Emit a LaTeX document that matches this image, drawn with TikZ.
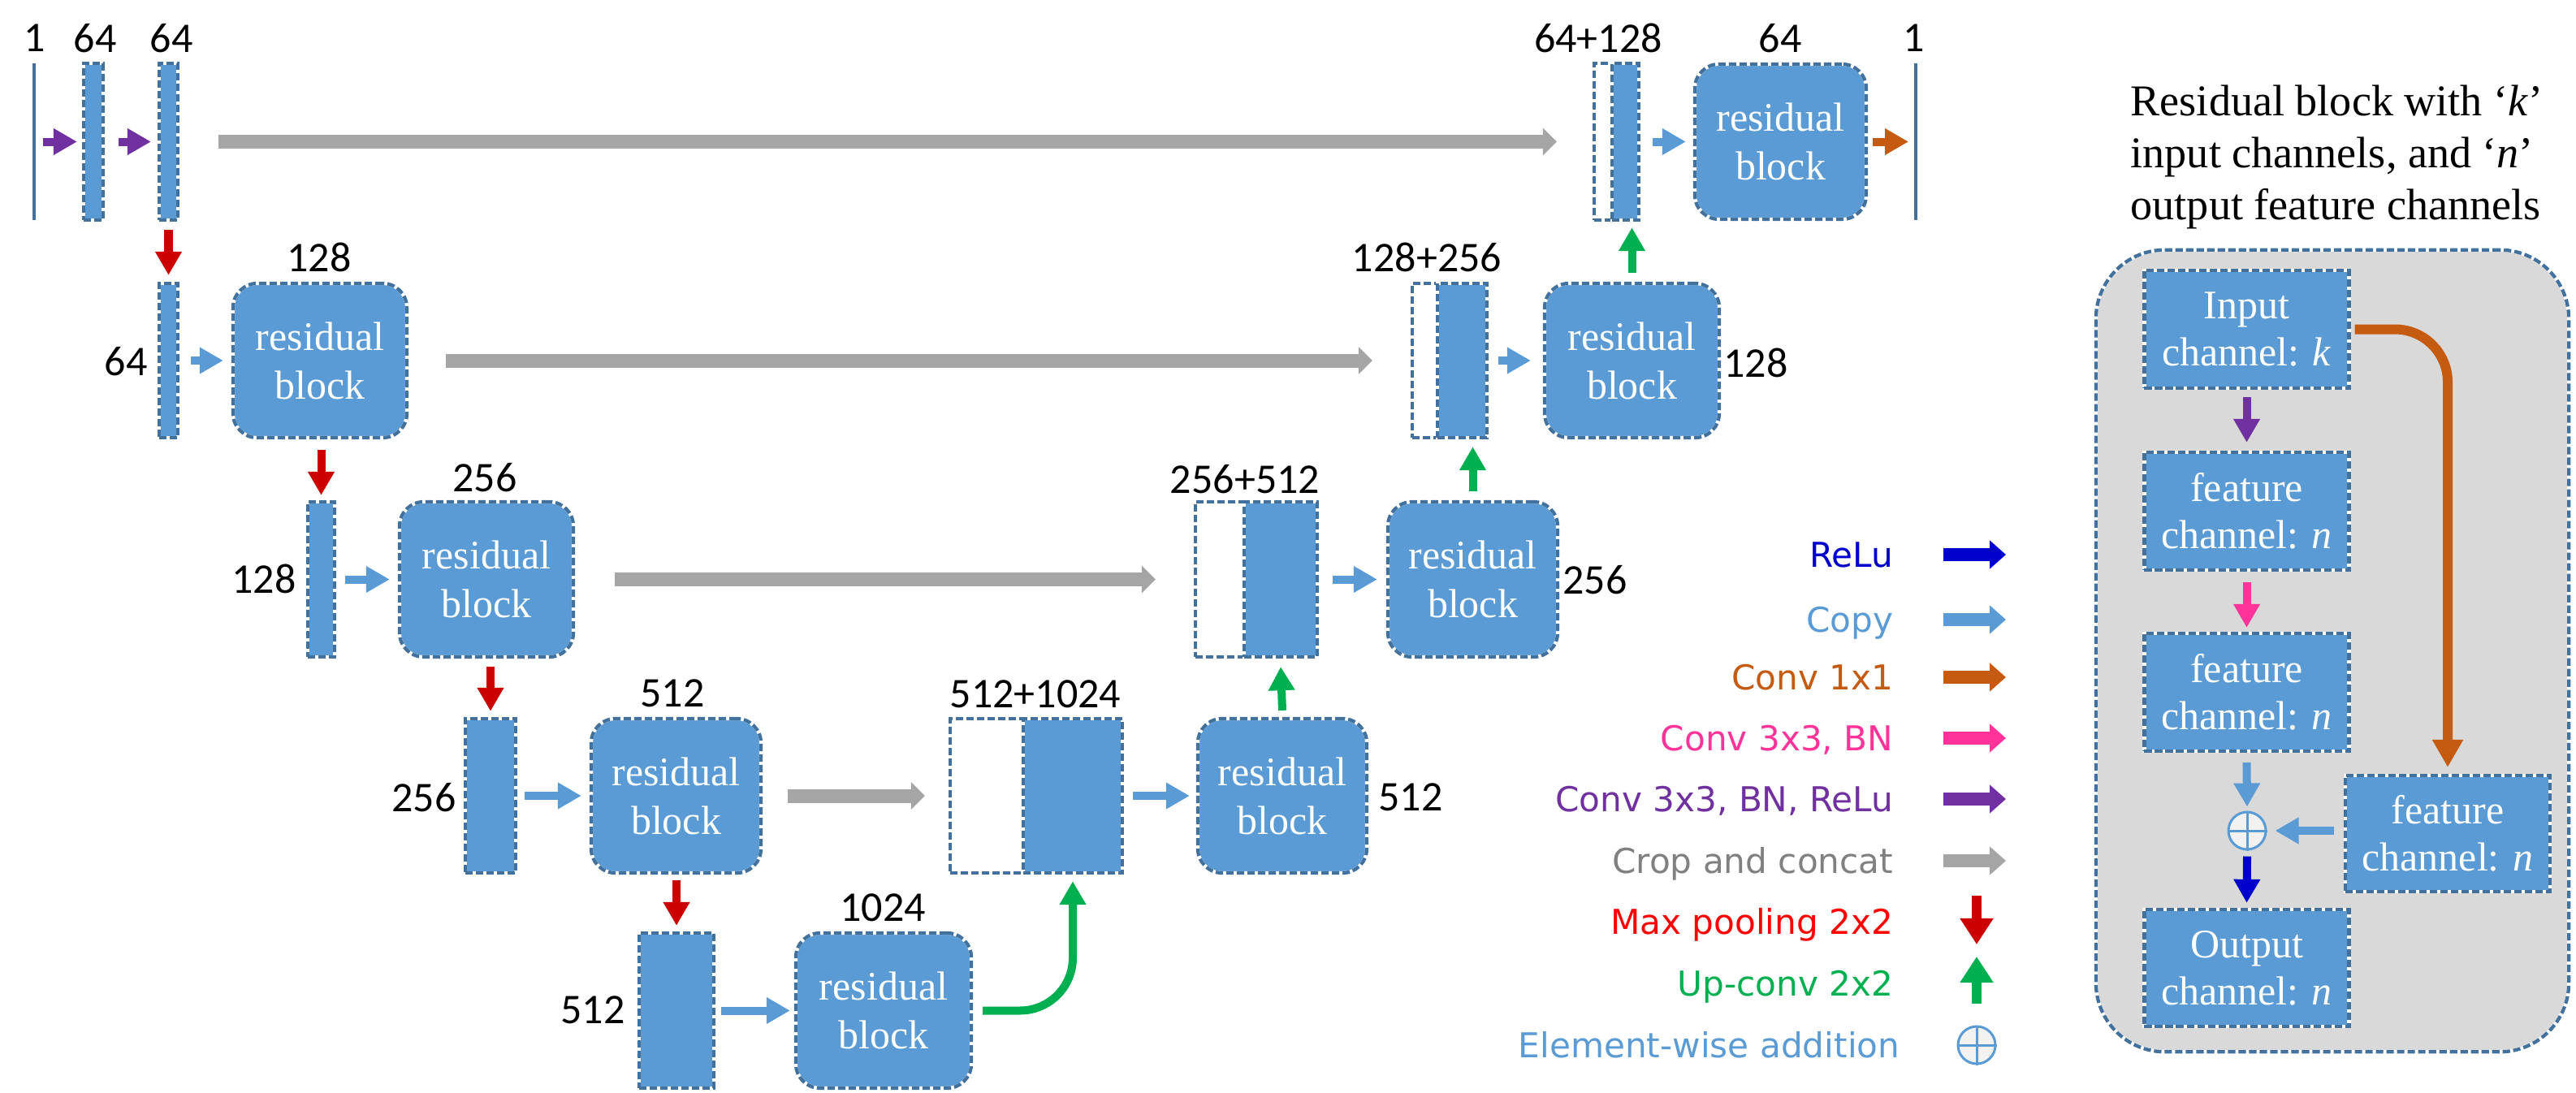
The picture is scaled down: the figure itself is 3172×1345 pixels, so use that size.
\documentclass[tikz,border=0pt]{standalone}
\usepackage{fontspec}
\usetikzlibrary{arrows.meta,calc}
\newfontfamily\labfont{Carlito}
\newfontfamily\serfont{Liberation Serif}
\newfontfamily\legfont{DejaVu Sans}
\definecolor{bl}{HTML}{5B9BD5}
\definecolor{bd}{HTML}{41719C}
\definecolor{gr}{HTML}{A5A5A5}
\definecolor{grtxt}{HTML}{808080}
\definecolor{pu}{HTML}{7030A0}
\definecolor{rd}{HTML}{CC0000}
\definecolor{rdtxt}{HTML}{FF0000}
\definecolor{gn}{HTML}{00B050}
\definecolor{orng}{HTML}{C55A11}
\definecolor{pk}{HTML}{FF3399}
\definecolor{dblue}{HTML}{0000CC}
\definecolor{panelgray}{HTML}{D9D9D9}
\definecolor{addfill}{HTML}{F2F2F2}
\begin{document}
\begin{tikzpicture}[x=0.01cm,y=-0.01cm,
  dashb/.style={draw=white, solid, line width=1.2pt,
    postaction={draw=bd, line width=1.2pt, dash pattern=on 2.6pt off 1.1pt}},
  blk/.style={dashb, fill=bl, inner sep=0pt},
  wbox/.style={dashb, fill=white, inner sep=0pt},
  resb/.style={blk, rounded corners=0.3cm, minimum width=2.12cm, minimum height=1.91cm,
    text=white, font=\serfont\fontsize{14.2}{17.1}\selectfont, align=center},
  pbox/.style={blk, minimum width=2.52cm, minimum height=1.45cm,
    text=white, font=\serfont\fontsize{14.2}{16.5}\selectfont, align=center},
  num/.style={font=\labfont\fontsize{14.8}{17}\selectfont, inner sep=0pt},
  legtext/.style={font=\legfont\fontsize{12}{14}\selectfont, inner sep=0pt, anchor=base east},
  arr/.style={line width=0.1cm, -{Triangle[length=0.29cm,width=0.31cm]}},
  grayarr/.style={draw=gr, line width=0.17cm, -{Triangle[length=0.17cm,width=0.33cm]}},
  legarr/.style={line width=0.165cm, -{Triangle[length=0.2cm,width=0.34cm]}},
  vlegarr/.style={line width=0.12cm, -{Triangle[length=0.32cm,width=0.39cm]}},
  addsym/.style={circle, draw=bl, fill=addfill, line width=0.03cm, minimum size=0.46cm, inner sep=0pt}
]
\useasboundingbox (0,0) rectangle (3172,1345);

% ---------------- level 1 ----------------
\node[fill=bd, inner sep=0pt, minimum width=0.04cm, minimum height=1.93cm] (inp) at (42,174.5) {};
\node[blk, minimum width=0.24cm, minimum height=1.93cm] (b11) at (115,174.5) {};
\node[blk, minimum width=0.23cm, minimum height=1.93cm] (b12) at (207.5,174.5) {};
\node[wbox, minimum width=0.55cm, minimum height=1.93cm] (c1w) at (1990.5,174.5) {};
\node[blk, minimum width=0.33cm, minimum height=1.93cm] (c1b) at (2001.5,174.5) {};
\node[resb, minimum width=2.11cm] (r1) at (2192.5,174.5) {residual\\block};
\node[fill=bd, inner sep=0pt, minimum width=0.04cm, minimum height=1.93cm] (outp) at (2359,174.5) {};

\node[num] (n11) at (43,47) {1};
\node[num] (n12) at (117,47) {64};
\node[num] (n13) at (211,47) {64};
\node[num] (n14) at (1968,47) {64+128};
\node[num] (n15) at (2192,47) {64};
\node[num] (n16) at (2357,47) {1};

% ---------------- level 2 ----------------
\node[blk, minimum width=0.23cm, minimum height=1.90cm] (b21) at (207.5,444) {};
\node[resb, minimum width=2.14cm, minimum height=1.90cm] (r21) at (394,444) {residual\\block};
\node[wbox, minimum width=0.92cm, minimum height=1.90cm] (c2w) at (1785,444) {};
\node[blk, minimum width=0.61cm, minimum height=1.90cm] (c2b) at (1800.5,444) {};
\node[resb, minimum width=2.15cm, minimum height=1.90cm] (r22) at (2009.5,444) {residual\\block};

\node[num] (n21) at (155,445) {64};
\node[num] (n22) at (393,317) {128};
\node[num] (n23) at (1757,317) {128+256};
\node[num] (n24) at (2162,447) {128};

% ---------------- level 3 ----------------
\node[blk, minimum width=0.33cm, minimum height=1.91cm] (b31) at (395.5,713.5) {};
\node[resb, minimum width=2.14cm] (r31) at (599,713.5) {residual\\block};
\node[wbox, minimum width=1.50cm, minimum height=1.91cm] (c3w) at (1547,713.5) {};
\node[blk, minimum width=0.90cm, minimum height=1.91cm] (c3b) at (1577,713.5) {};
\node[resb, minimum width=2.09cm] (r32) at (1813.5,713.5) {residual\\block};

\node[num] (n31) at (325,713) {128};
\node[num] (n32) at (597,588) {256};
\node[num] (n33) at (1533,590) {256+512};
\node[num] (n34) at (1964,714) {256};

% ---------------- level 4 ----------------
\node[blk, minimum width=0.62cm, minimum height=1.90cm] (b41) at (604,980) {};
\node[resb, minimum width=2.09cm, minimum height=1.90cm] (r41) at (832.5,980) {residual\\block};
\node[wbox, minimum width=2.12cm, minimum height=1.90cm] (c4w) at (1276,980) {};
\node[blk, minimum width=1.22cm, minimum height=1.90cm] (c4b) at (1321,980) {};
\node[resb, minimum width=2.08cm, minimum height=1.90cm] (r42) at (1579,980) {residual\\block};

\node[num] (n41) at (522,982) {256};
\node[num] (n42) at (828,854) {512};
\node[num] (n43) at (1275,855) {512+1024};
\node[num] (n44) at (1737,982) {512};

% ---------------- level 5 ----------------
\node[blk, minimum width=0.92cm, minimum height=1.91cm] (b51) at (833,1244.5) {};
\node[resb, minimum width=2.16cm] (r51) at (1088,1244.5) {residual\\block};

\node[num] (n51) at (730,1244) {512};
\node[num] (n52) at (1087,1118) {1024};

% ---------------- connectors ----------------
\draw[arr, pu] ([xshift=0.11cm]inp.center) -- ([xshift=-0.06cm]b11.west);
\draw[arr, pu] ([xshift=0.17cm]b11.east) -- ([xshift=-0.08cm]b12.west);
\draw[grayarr] ([xshift=0.48cm]b12.east) -- ([xshift=-0.44cm]c1w.west);
\draw[arr, bl] ([xshift=0.15cm]c1b.east) -- ([xshift=-0.09cm]r1.west);
\draw[arr, orng] ([xshift=0.06cm]r1.east) -- ([xshift=-0.09cm]outp.center);
\draw[arr, rd] ([yshift=-0.10cm]b12.south) -- ([yshift=0.08cm]b21.north);

\draw[arr, bl] ([xshift=0.14cm]b21.east) -- ([xshift=-0.10cm]r21.west);
\draw[grayarr] ([xshift=0.46cm]r21.east) -- ([xshift=-0.47cm]c2w.west);
\draw[arr, bl] ([xshift=0.12cm]c2b.east) -- ([xshift=-0.15cm]r22.west);
\draw[arr, gn] ([yshift=0.11cm]r22.north) -- ([yshift=-0.07cm]r22.north |- c1b.south);

\draw[arr, rd] ([yshift=-0.13cm]b31.north |- r21.south) -- ([yshift=0.06cm]b31.north);
\draw[arr, bl] ([xshift=0.11cm]b31.east) -- ([xshift=-0.10cm]r31.west);
\draw[grayarr] ([xshift=0.49cm]r31.east) -- ([xshift=-0.47cm]c3w.west);
\draw[arr, bl] ([xshift=0.17cm]c3b.east) -- ([xshift=-0.11cm]r32.west);
\draw[arr, gn] ([yshift=0.11cm]r32.north) -- ([yshift=-0.09cm]r32.north |- c2b.south);

\draw[arr, rd] ([yshift=-0.10cm]b41.north |- r31.south) -- ([yshift=0.07cm]b41.north);
\draw[arr, bl] ([xshift=0.09cm]b41.east) -- ([xshift=-0.10cm]r41.west);
\draw[grayarr] ([xshift=0.31cm]r41.east) -- ([xshift=-0.29cm]c4w.west);
\draw[arr, bl] ([xshift=0.11cm]c4b.east) -- ([xshift=-0.08cm]r42.west);
\draw[arr, gn] ([yshift=0.08cm]c4b.north -| r42.north) -- ([yshift=-0.10cm]c3b.south);

\draw[arr, rd] ([yshift=-0.07cm]b51.north |- r41.south) -- ([yshift=0.07cm]b51.north);
\draw[arr, bl] ([xshift=0.07cm]b51.east) -- ([xshift=-0.05cm]r51.west);
\draw[arr, gn, rounded corners=0.65cm] ([xshift=0.12cm]r51.east) -| ([yshift=-0.08cm]c4b.south);

% ---------------- legend ----------------
\node[legtext, text=dblue] (t1) at (2332,698) {ReLu};
\node[legtext, text=bl] (t2) at (2332,778) {Copy};
\node[legtext, text=orng] (t3) at (2332,849) {Conv 1x1};
\node[legtext, text=pk] (t4) at (2332,924) {Conv 3x3, BN};
\node[legtext, text=pu] (t5) at (2332,999) {Conv 3x3, BN, ReLu};
\node[legtext, text=grtxt] (t6) at (2332,1075) {Crop and concat};
\node[legtext, text=rdtxt] (t7) at (2332,1150) {Max pooling 2x2};
\node[legtext, text=gn] (t8) at (2332,1226) {Up-conv 2x2};
\node[legtext, text=bl] (t9) at (2340,1302) {Element-wise addition};

\coordinate (a1s) at (2393,683);  \coordinate (a1e) at (2470,683);
\coordinate (a2s) at (2393,763);  \coordinate (a2e) at (2470,763);
\coordinate (a3s) at (2393,834);  \coordinate (a3e) at (2470,834);
\coordinate (a4s) at (2393,909);  \coordinate (a4e) at (2470,909);
\coordinate (a5s) at (2393,984);  \coordinate (a5e) at (2470,984);
\coordinate (a6s) at (2393,1060); \coordinate (a6e) at (2470,1060);
\coordinate (a7s) at (2434,1103); \coordinate (a7e) at (2434,1163);
\coordinate (a8s) at (2434,1236); \coordinate (a8e) at (2434,1178);
\draw[legarr, dblue] (a1s) -- (a1e);
\draw[legarr, bl] (a2s) -- (a2e);
\draw[legarr, orng] (a3s) -- (a3e);
\draw[legarr, pk] (a4s) -- (a4e);
\draw[legarr, pu] (a5s) -- (a5e);
\draw[legarr, gr] (a6s) -- (a6e);
\draw[vlegarr, rd] (a7s) -- (a7e);
\draw[vlegarr, gn] (a8s) -- (a8e);
\node[addsym] (legadd) at (2434,1287) {};
\draw[bl, line width=0.03cm] (legadd.north) -- (legadd.south) (legadd.west) -- (legadd.east);

% ---------------- residual block panel ----------------
\node[anchor=north west, inner sep=0pt, align=left,
  font=\serfont\fontsize{15.4}{18.2}\selectfont] (title) at (2623,104)
  {Residual block with ‘\textit{k}’\\input channels, and ‘\textit{n}’\\output feature channels};

\node[dashb, fill=panelgray, rounded corners=0.85cm, inner sep=0pt,
  minimum width=5.82cm, minimum height=9.87cm] (panel) at (2872,801.5) {};
\node[pbox] (inb) at (2766.5,405.5) {Input\\channel: \textit{k}};
\node[pbox] (f1) at (2766.5,629.5) {feature\\channel: \textit{n}};
\node[pbox] (f2) at (2766.5,852.5) {feature\\channel: \textit{n}};
\node[addsym] (add) at (2767,1023) {};
\draw[bl, line width=0.03cm] (add.north) -- (add.south) (add.west) -- (add.east);
\node[pbox, minimum height=1.44cm] (outb) at (2766.5,1192) {Output\\channel: \textit{n}};
\node[pbox, minimum height=1.43cm] (fr) at (3014,1026.5) {feature\\channel: \textit{n}};

\draw[arr, pu] ([yshift=-0.09cm]inb.south) -- ([yshift=0.10cm]f1.north);
\draw[arr, pk] ([yshift=-0.13cm]f1.south) -- ([yshift=0.05cm]f2.north);
\draw[arr, bl] ([yshift=-0.12cm]f2.south) -- ([yshift=0.05cm]add.north);
\draw[arr, dblue] ([yshift=-0.07cm]add.south) -- ([yshift=0.06cm]outb.north);
\draw[arr, bl] ([xshift=-0.12cm]fr.west |- add) -- ([xshift=0.10cm]add.east);
\draw[orng, line width=0.12cm, -{Triangle[length=0.34cm,width=0.36cm]}, rounded corners=0.65cm]
  ([xshift=0.05cm]inb.east) -| ([yshift=0.08cm]fr.north);
\end{tikzpicture}
\end{document}
